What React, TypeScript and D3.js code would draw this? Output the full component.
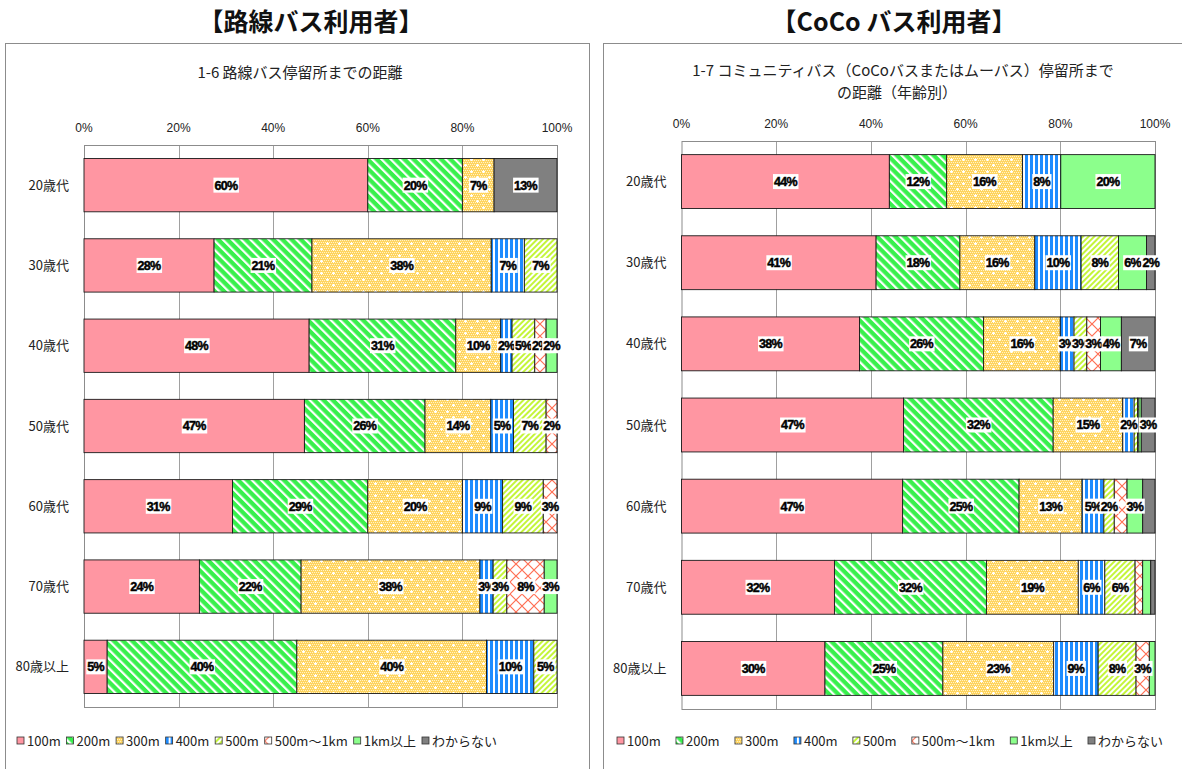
import { useEffect, useRef } from "react";
import * as d3 from "d3";

// categories
const ageGroups = ["20歳代", "30歳代", "40歳代", "50歳代", "60歳代", "70歳代", "80歳以上"];
const distances = ["100m", "200m", "300m", "400m", "500m", "500m〜1km", "1km以上", "わからない"];
const xTicks = [0, 20, 40, 60, 80, 100];

// 路線バス利用者 (%), one array per distance, in ageGroups order
const route100m = [60.0, 27.5, 47.6, 46.6, 31.4, 24.4, 4.9];
const route200m = [20.0, 20.7, 31.0, 25.5, 28.6, 21.5, 40.1];
const route300m = [6.7, 37.9, 9.5, 13.9, 20.0, 37.8, 40.1];
const route400m = [0, 7.0, 2.4, 4.8, 8.5, 2.8, 10.0];
const route500m = [0, 6.9, 4.8, 6.9, 8.6, 2.9, 4.9];
const route1k = [0, 0, 2.4, 2.3, 2.9, 7.9, 0];
const routeOver1k = [0, 0, 2.3, 0, 0, 2.7, 0];
const routeUnknown = [13.3, 0, 0, 0, 0, 0, 0];

// CoCo バス利用者 (%)
const coco100m = [43.9, 41.1, 37.6, 46.9, 46.7, 32.3, 30.3];
const coco200m = [12.1, 17.7, 26.2, 31.6, 24.6, 32.1, 24.9];
const coco300m = [16.0, 15.8, 16.2, 14.7, 13.3, 19.4, 23.4];
const coco400m = [8.1, 9.8, 2.9, 2.4, 4.6, 5.6, 9.4];
const coco500m = [0, 7.9, 2.7, 0.7, 2.2, 6.4, 8.0];
const coco1k = [0, 0, 2.9, 0.3, 2.7, 1.6, 2.8];
const cocoOver1k = [19.9, 5.9, 4.4, 0.5, 3.3, 1.7, 1.2];
const cocoUnknown = [0, 1.8, 7.1, 2.9, 2.6, 0.9, 0];

// labels removed in the original
const cocoHiddenLabels = ["60歳代|500m〜1km", "60歳代|わからない"];

const patternIds = ["p100", "p200", "p300", "p400", "p500", "p1k", "pover1k", "punk"];

const JP = "'Noto Sans CJK JP', 'Liberation Sans', sans-serif";
const NUM = "'Liberation Sans', 'Noto Sans CJK JP', sans-serif";

function addPatterns(defs: any) {
  const p100 = defs.append("pattern").attr("id", "p100").attr("patternUnits", "userSpaceOnUse").attr("width", 4).attr("height", 4);
  p100.append("rect").attr("width", 4).attr("height", 4).attr("fill", "#ff96a2");

  const p200 = defs.append("pattern").attr("id", "p200").attr("patternUnits", "userSpaceOnUse")
    .attr("width", 6.5).attr("height", 6.5).attr("patternTransform", "rotate(-45)");
  p200.append("rect").attr("width", 6.5).attr("height", 6.5).attr("fill", "#38f04c");
  p200.append("rect").attr("width", 2.2).attr("height", 6.5).attr("fill", "#fff");

  const p300 = defs.append("pattern").attr("id", "p300").attr("patternUnits", "userSpaceOnUse").attr("width", 12).attr("height", 12);
  p300.append("rect").attr("width", 12).attr("height", 12).attr("fill", "#ffd45e");
  for (let i = 0; i < 12; i += 2) {
    for (let j = 0; j < 12; j += 2) {
      p300.append("rect").attr("x", i + ((j / 2) % 2)).attr("y", j).attr("width", 1).attr("height", 1).attr("fill", "#fff3c8");
    }
  }
  p300.append("rect").attr("x", 2).attr("y", 3).attr("width", 3).attr("height", 1).attr("fill", "#fff");
  p300.append("rect").attr("x", 3).attr("y", 2).attr("width", 1).attr("height", 3).attr("fill", "#fff");
  p300.append("rect").attr("x", 8).attr("y", 9).attr("width", 3).attr("height", 1).attr("fill", "#fff");
  p300.append("rect").attr("x", 9).attr("y", 8).attr("width", 1).attr("height", 3).attr("fill", "#fff");

  const p400 = defs.append("pattern").attr("id", "p400").attr("patternUnits", "userSpaceOnUse").attr("width", 5).attr("height", 5);
  p400.append("rect").attr("width", 5).attr("height", 5).attr("fill", "#fff");
  p400.append("rect").attr("width", 3).attr("height", 5).attr("fill", "#1e8cff");

  const p500 = defs.append("pattern").attr("id", "p500").attr("patternUnits", "userSpaceOnUse")
    .attr("width", 4).attr("height", 4).attr("patternTransform", "rotate(45)");
  p500.append("rect").attr("width", 4).attr("height", 4).attr("fill", "#fff");
  p500.append("rect").attr("width", 2).attr("height", 4).attr("fill", "#c4f53a");

  const p1k = defs.append("pattern").attr("id", "p1k").attr("patternUnits", "userSpaceOnUse").attr("width", 12).attr("height", 12);
  p1k.append("rect").attr("width", 12).attr("height", 12).attr("fill", "#fff");
  p1k.append("path").attr("d", "M0,0L12,12M12,0L0,12").attr("stroke", "#ff6e52").attr("stroke-width", 1.2);

  const pover1k = defs.append("pattern").attr("id", "pover1k").attr("patternUnits", "userSpaceOnUse").attr("width", 4).attr("height", 4);
  pover1k.append("rect").attr("width", 4).attr("height", 4).attr("fill", "#8cff8c");

  const punk = defs.append("pattern").attr("id", "punk").attr("patternUnits", "userSpaceOnUse").attr("width", 4).attr("height", 4);
  punk.append("rect").attr("width", 4).attr("height", 4).attr("fill", "#808080");
}

interface PanelConfig {
  frame: [number, number, number, number];
  title: string;
  titleX: number;
  subtitle: string[];
  subtitleX: number[];
  subtitleY: number[];
  left: number;
  right: number;
  top: number;
  bottom: number;
  tickY: number;
  series: number[][];
  hidden: string[];
  legendStart: number;
  legendEnd: number;
}

function drawPanel(svg: any, cfg: PanelConfig) {
  const g = svg.append("g");

  // frame
  const [fx, fy, fw, fh] = cfg.frame;
  g.append("rect").attr("x", fx + 0.5).attr("y", fy + 0.5).attr("width", fw).attr("height", fh)
    .attr("fill", "#fff").attr("stroke", "#8c8c8c");

  // titles
  g.append("text").attr("x", cfg.titleX).attr("y", 31).attr("text-anchor", "middle")
    .attr("font-family", JP).attr("font-size", 25).attr("font-weight", "bold").attr("fill", "#111")
    .text(cfg.title);
  cfg.subtitle.forEach((s, i) => {
    g.append("text").attr("x", cfg.subtitleX[i]).attr("y", cfg.subtitleY[i]).attr("text-anchor", "middle")
      .attr("font-family", JP).attr("font-size", 15).attr("fill", "#222").text(s);
  });

  const x = d3.scaleLinear().domain([0, 100]).range([cfg.left, cfg.right]);
  const y = d3.scaleBand().domain(ageGroups).range([cfg.top, cfg.bottom]).paddingInner(0.336).paddingOuter(0.168);

  // grid
  g.append("g").selectAll("line").data(xTicks.slice(1, -1)).join("line")
    .attr("x1", (d: number) => Math.round(x(d)) + 0.5).attr("x2", (d: number) => Math.round(x(d)) + 0.5)
    .attr("y1", cfg.top).attr("y2", cfg.bottom).attr("stroke", "#a0a0a0");
  g.append("rect").attr("x", cfg.left + 0.5).attr("y", cfg.top + 0.5)
    .attr("width", cfg.right - cfg.left).attr("height", cfg.bottom - cfg.top)
    .attr("fill", "none").attr("stroke", "#8c8c8c");

  // tick labels
  g.append("g").selectAll("text").data(xTicks).join("text")
    .attr("x", (d: number) => x(d)).attr("y", cfg.tickY).attr("text-anchor", "middle")
    .attr("font-family", NUM).attr("font-size", 12).attr("fill", "#222")
    .text((d: number) => `${d}%`);

  // category labels
  g.append("g").selectAll("text").data(ageGroups).join("text")
    .attr("x", cfg.left - 15).attr("y", (d: string) => (y(d) || 0) + y.bandwidth() / 2 + 4.5)
    .attr("text-anchor", "end").attr("font-family", JP).attr("font-size", 13).attr("fill", "#222")
    .text((d: string) => d);

  // stacked bars
  const rows = ageGroups.map((a, i) => {
    const r: any = { age: a };
    distances.forEach((k, j) => (r[k] = cfg.series[j][i]));
    return r;
  });
  const stacked = d3.stack<any>().keys(distances)(rows);

  const layers = g.append("g").selectAll("g").data(stacked).join("g")
    .attr("fill", (_: any, i: number) => `url(#${patternIds[i]})`);
  layers.selectAll("rect").data((d: any) => d.filter((s: any) => s[1] - s[0] > 0)).join("rect")
    .attr("x", (d: any) => x(d[0])).attr("width", (d: any) => x(d[1]) - x(d[0]))
    .attr("y", (d: any) => y(d.data.age) || 0).attr("height", y.bandwidth())
    .attr("stroke", "#1a1a1a").attr("stroke-width", 0.9);

  // value labels
  const labelG = g.append("g");
  stacked.forEach((layer: any) => {
    layer.forEach((d: any) => {
      const v = d.data[layer.key];
      if (v < 1.75 || cfg.hidden.includes(`${d.data.age}|${layer.key}`)) return;
      const cx = x((d[0] + d[1]) / 2);
      const cy = (y(d.data.age) || 0) + y.bandwidth() / 2;
      const lg = labelG.append("g");
      const t = lg.append("text").attr("x", cx).attr("y", cy + 4.4).attr("text-anchor", "middle")
        .attr("font-family", NUM).attr("font-size", 12.5).attr("font-weight", "bold")
        .attr("letter-spacing", -0.7).attr("fill", "#000")
        .attr("stroke", "#000").attr("stroke-width", 0.45)
        .text(`${Math.round(v)}%`);
      const bb = (t.node() as SVGTextElement).getBBox();
      lg.insert("rect", "text").attr("x", bb.x - 1).attr("y", cy - 7.5).attr("width", bb.width + 2).attr("height", 15)
        .attr("fill", "#fff");
    });
  });

  // legend
  const leg = g.append("g");
  const items = distances.map((k, i) => {
    const it = leg.append("g");
    it.append("rect").attr("width", 7).attr("height", 7).attr("y", -4)
      .attr("fill", `url(#${patternIds[i]})`).attr("stroke", "#333").attr("stroke-width", 0.8);
    const t = it.append("text").attr("x", 10).attr("y", 4.5).attr("font-family", JP)
      .attr("font-size", 13).attr("fill", "#222").text(k);
    const w = 10 + (t.node() as SVGTextElement).getComputedTextLength();
    return { it, w };
  });
  const total = d3.sum(items, (d) => d.w);
  const gap = (cfg.legendEnd - cfg.legendStart - total) / (items.length - 1);
  let cur = cfg.legendStart;
  items.forEach((d) => {
    d.it.attr("transform", `translate(${cur},741)`);
    cur += d.w + gap;
  });
}

export default function App() {
  const svgRef = useRef<SVGSVGElement>(null);

  useEffect(() => {
    const svg = d3.select(svgRef.current);
    svg.selectAll("*").remove();
    addPatterns(svg.append("defs"));

    drawPanel(svg, {
      frame: [5, 43, 584, 740],
      title: "【路線バス利用者】",
      titleX: 311,
      subtitle: ["1-6 路線バス停留所までの距離"],
      subtitleX: [300],
      subtitleY: [78],
      left: 84,
      right: 557,
      top: 145,
      bottom: 707,
      tickY: 132,
      series: [route100m, route200m, route300m, route400m, route500m, route1k, routeOver1k, routeUnknown],
      hidden: [],
      legendStart: 17,
      legendEnd: 497,
    });

    drawPanel(svg, {
      frame: [603, 43, 600, 740],
      title: "【CoCo バス利用者】",
      titleX: 894,
      subtitle: ["1-7 コミュニティバス（CoCoバスまたはムーバス）停留所まで", "の距離（年齢別）"],
      subtitleX: [903, 897],
      subtitleY: [76, 98],
      left: 681.5,
      right: 1155,
      top: 141,
      bottom: 709,
      tickY: 128,
      series: [coco100m, coco200m, coco300m, coco400m, coco500m, coco1k, cocoOver1k, cocoUnknown],
      hidden: cocoHiddenLabels,
      legendStart: 617,
      legendEnd: 1163,
    });
  }, []);

  return (
    <svg
      ref={svgRef}
      width={1182}
      height={769}
      style={{ position: "absolute", left: 0, top: 0, background: "#fff" }}
    ></svg>
  );
}
